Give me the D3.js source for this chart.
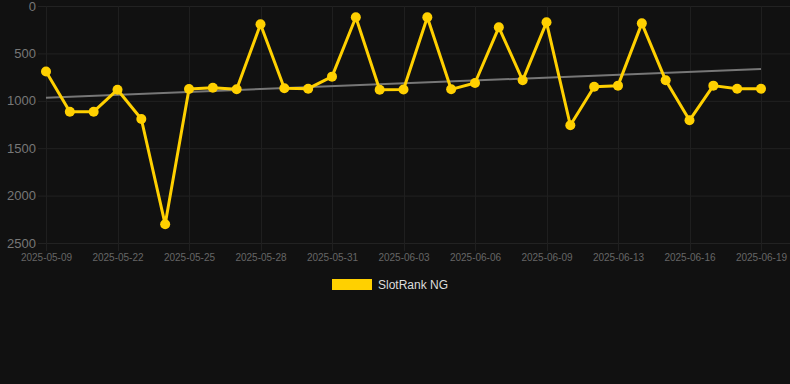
<!DOCTYPE html>
<html>
<head>
<meta charset="utf-8">
<script src="https://cdn.jsdelivr.net/npm/d3@7"></script>
<style>
  html, body { margin: 0; padding: 0; background: #111111; }
  svg { display: block; font-family: "Liberation Sans", Arial, Helvetica, sans-serif; }
</style>
</head>
<body>
<svg id="chart" width="790" height="384"></svg>
<script>
// dates on the category axis (only every 3rd one is labelled)
const dates = [
  '2025-05-09', '2025-05-20', '2025-05-21', '2025-05-22', '2025-05-23', '2025-05-24',
  '2025-05-25', '2025-05-26', '2025-05-27', '2025-05-28', '2025-05-29', '2025-05-30',
  '2025-05-31', '2025-06-01', '2025-06-02', '2025-06-03', '2025-06-04', '2025-06-05',
  '2025-06-06', '2025-06-07', '2025-06-08', '2025-06-09', '2025-06-11', '2025-06-12',
  '2025-06-13', '2025-06-14', '2025-06-15', '2025-06-16', '2025-06-17', '2025-06-18',
  '2025-06-19'
];
const rankValues = [
  690, 1115, 1115, 883, 1192, 2303, 875, 862, 879, 193, 868,
  872, 745, 119, 883, 880, 119, 879, 812, 225, 784, 172,
  1258, 851, 840, 183, 784, 1206, 840, 872, 872
];
// trend line at first and last date
const trendDates = ['2025-05-09', '2025-06-19'];
const trendValues = [967, 665];
const yTicks = [0, 500, 1000, 1500, 2000, 2500];
const seriesName = 'SlotRank NG';

const width = 790;
const margin = { top: 6, right: 29, bottom: 141, left: 46 };
const plotBottom = 243;

const svg = d3.select('#chart');

const x = d3.scalePoint()
  .domain(dates)
  .range([margin.left, width - margin.right]);

const y = d3.scaleLinear()
  .domain([0, 2500])
  .range([margin.top, plotBottom]);

const labelled = dates.filter((d, i) => i % 3 === 0);

// grid
const grid = svg.append('g');
grid.selectAll('.hgrid')
  .data(yTicks)
  .enter()
  .append('line')
  .attr('x1', margin.left - 8)
  .attr('x2', width)
  .attr('y1', d => y(d) + 0.5)
  .attr('y2', d => y(d) + 0.5)
  .style('stroke', '#222')
  .style('stroke-width', 1);

grid.selectAll('.vgrid')
  .data(labelled)
  .enter()
  .append('line')
  .attr('x1', d => Math.round(x(d)) + 0.5)
  .attr('x2', d => Math.round(x(d)) + 0.5)
  .attr('y1', margin.top)
  .attr('y2', plotBottom + 8)
  .style('stroke', '#1f1f1f')
  .style('stroke-width', 1);

// y axis labels
svg.append('g')
  .attr('transform', `translate(${margin.left - 10},0)`)
  .call(d3.axisLeft(y).tickValues(yTicks).tickFormat(d3.format('d')).tickSize(0).tickPadding(0))
  .call(g => g.select('.domain').remove())
  .call(g => g.selectAll('text')
    .style('font-size', '13px')
    .style('fill', '#777')
    .style('font-family', '"Liberation Sans", Arial, sans-serif'));

// x axis labels
svg.append('g')
  .attr('transform', `translate(0,${plotBottom + 11})`)
  .call(d3.axisBottom(x).tickValues(labelled).tickSize(0).tickPadding(0))
  .call(g => g.select('.domain').remove())
  .call(g => g.selectAll('text')
    .style('font-size', '10px')
    .style('fill', '#666')
    .style('font-family', '"Liberation Sans", Arial, sans-serif'));

// trend line
svg.append('path')
  .datum(trendDates.map((d, i) => ({ d, v: trendValues[i] })))
  .attr('d', d3.line().x(p => x(p.d)).y(p => y(p.v)))
  .style('fill', 'none')
  .style('stroke', '#777')
  .style('stroke-width', 2);

// rank line
const points = dates.map((d, i) => ({ d, v: rankValues[i] }));
svg.append('path')
  .datum(points)
  .attr('d', d3.line().x(p => x(p.d)).y(p => y(p.v)))
  .style('fill', 'none')
  .style('stroke', '#ffd000')
  .style('stroke-width', 3)
  .style('stroke-linejoin', 'round');

svg.selectAll('.dot')
  .data(points)
  .enter()
  .append('circle')
  .attr('cx', p => x(p.d))
  .attr('cy', p => y(p.v))
  .attr('r', 5)
  .attr('fill', '#ffd000');

// legend
const legend = svg.append('g').attr('transform', 'translate(332,279)');
legend.append('rect')
  .attr('width', 40)
  .attr('height', 11)
  .attr('fill', '#ffd000');
legend.append('text')
  .attr('x', 46)
  .attr('y', 10)
  .style('font-size', '12px')
  .style('fill', '#ddd')
  .text(seriesName);
</script>
</body>
</html>
